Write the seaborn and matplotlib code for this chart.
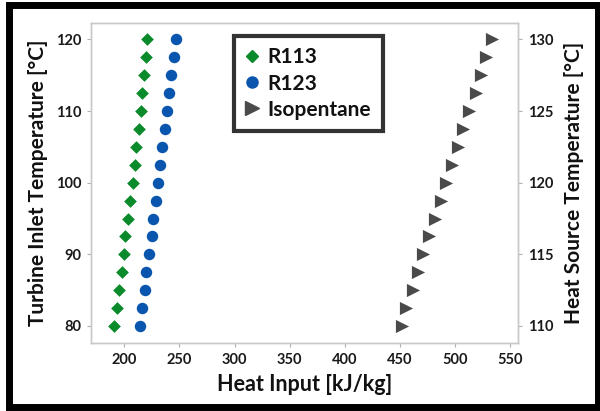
import numpy as np
import pandas as pd
import matplotlib
matplotlib.use("Agg")
import matplotlib.pyplot as plt
import seaborn as sns
from matplotlib.patches import Rectangle
from matplotlib.lines import Line2D

# ---- data ----
turbine_inlet_T = [80, 82.5, 85, 87.5, 90, 92.5, 95, 97.5, 100, 102.5,
                   105, 107.5, 110, 112.5, 115, 117.5, 120]
r113_heat = [191, 193, 195.5, 197.5, 199.5, 201, 203, 205.5, 208, 209.5,
             211, 213, 215, 216.5, 218, 219.5, 221]
r123_heat = [214.5, 216, 218.5, 220, 222.5, 225, 226.5, 229, 230.5, 232.5,
             234, 237, 239, 240.5, 242.5, 245, 247]
heat_source_T = [110, 111.25, 112.5, 113.75, 115, 116.25, 117.5, 118.75, 120,
                 121.25, 122.5, 123.75, 125, 126.25, 127.5, 128.75, 130]
isopentane_heat = [451.5, 456, 462, 466.5, 471, 476.5, 482, 487, 492,
                   497.5, 503, 507.5, 513, 519, 524, 528.5, 534]

x_ticks = [200, 250, 300, 350, 400, 450, 500, 550]
left_ticks = [80, 90, 100, 110, 120]
right_ticks = [110, 115, 120, 125, 130]

c_green = "#0b8a2b"
c_blue = "#0a55ae"
c_gray = "#4a4a4a"

sns.set_theme(style="white")
plt.rcParams['font.family'] = ['Lato', 'DejaVu Sans']

fig = plt.figure(figsize=(6, 4.11), dpi=100)
ax = fig.add_axes([0.152, 0.165, 0.711, 0.779])
ax2 = ax.twinx()

df1 = pd.DataFrame({"heat": r113_heat, "T": turbine_inlet_T})
df2 = pd.DataFrame({"heat": r123_heat, "T": turbine_inlet_T})
df3 = pd.DataFrame({"heat": isopentane_heat, "T": heat_source_T})

sns.scatterplot(data=df1, x="heat", y="T", ax=ax, marker="D", s=42,
                color=c_green, linewidth=0, legend=False)
sns.scatterplot(data=df2, x="heat", y="T", ax=ax, marker="o", s=68,
                color=c_blue, linewidth=0, legend=False)
sns.scatterplot(data=df3, x="heat", y="T", ax=ax2, marker=">", s=90,
                color=c_gray, linewidth=0, legend=False)

ax.set_xlim(170, 557)
ax.set_ylim(77.6, 122.3)
ax2.set_ylim(108.8, 131.15)

ax.set_xticks(x_ticks)
ax.set_yticks(left_ticks)
ax2.set_yticks(right_ticks)

spine_c = "#c8c8c8"
for a in (ax, ax2):
    for sp in a.spines.values():
        sp.set_color(spine_c)
        sp.set_linewidth(1.0)
ax.tick_params(axis="both", which="major", length=3, width=0.8, color="#b0b0b0",
               labelsize=10.5, labelcolor="#1a1a1a", pad=4, direction="out")
ax.tick_params(axis="both", bottom=True, left=True)
ax2.tick_params(axis="y", which="major", length=3, width=0.8, color="#b0b0b0",
                labelsize=10.5, labelcolor="#1a1a1a", pad=4, direction="out", right=True)
for lab in ax.get_xticklabels() + ax.get_yticklabels() + ax2.get_yticklabels():
    lab.set_fontweight("bold")

ax.set_xlabel("Heat Input [kJ/kg]", fontsize=15.5, fontweight="bold", color="#111111", labelpad=5)
ax.set_ylabel("Turbine Inlet Temperature [°C]", fontsize=15, fontweight="bold", color="#111111", labelpad=6)
ax2.set_ylabel("Heat Source Temperature [°C]", fontsize=15, fontweight="bold", color="#111111", labelpad=8)

handles = [
    Line2D([], [], linestyle="none", marker="D", markersize=6.5, color=c_green, label="R113"),
    Line2D([], [], linestyle="none", marker="o", markersize=8, color=c_blue, label="R123"),
    Line2D([], [], linestyle="none", marker=">", markersize=9.5, color=c_gray, label="Isopentane"),
]
leg = ax2.legend(handles=handles, loc="upper left", bbox_to_anchor=(0.335, 0.96),
                 frameon=True, fancybox=False, fontsize=15, handlelength=0.6,
                 handletextpad=0.45, borderpad=0.55, labelspacing=0.3,
                 borderaxespad=0)
leg.get_frame().set_edgecolor("black")
leg.get_frame().set_linewidth(3.0)
for t in leg.get_texts():
    t.set_fontweight("bold")
    t.set_color("#111111")

fig.patches.append(Rectangle((0.015, 0.0097), 0.981, 0.977, transform=fig.transFigure,
                             fill=False, edgecolor="black", linewidth=5.0, zorder=10))

fig.savefig("out.png", dpi=100, facecolor="white")
